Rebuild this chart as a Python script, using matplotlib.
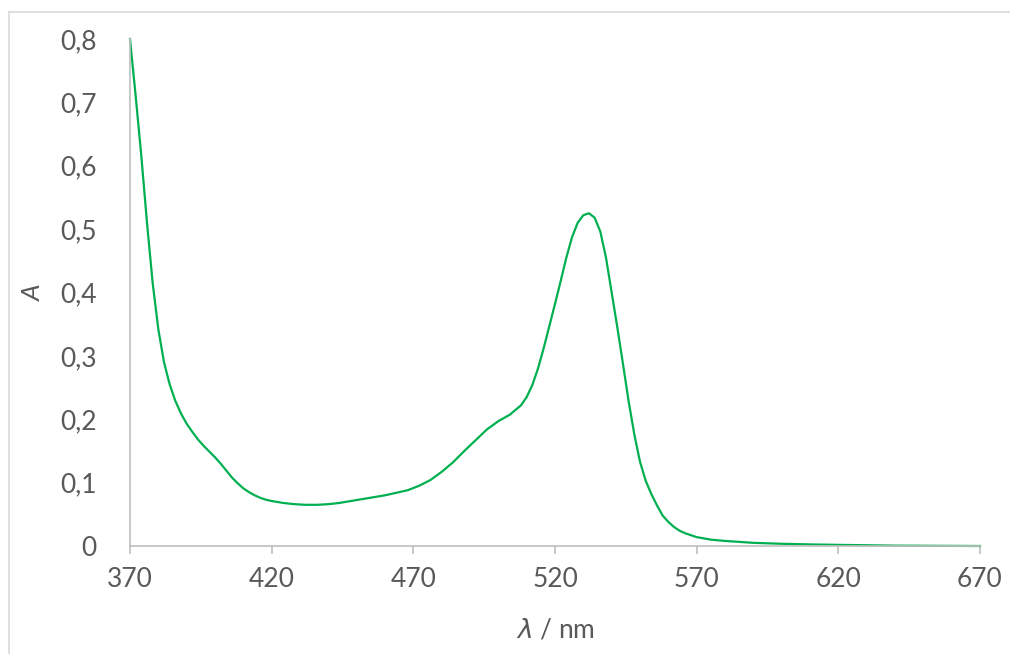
import numpy as np
import matplotlib
matplotlib.use('Agg')
import matplotlib.pyplot as plt
from matplotlib.lines import Line2D
from matplotlib.ticker import FuncFormatter

# absorption spectrum
wavelength = [370, 372, 374, 376, 378, 380, 382, 384, 386, 388, 390, 392, 394, 396, 398,
              400, 402, 404, 406, 408, 410, 412, 414, 416, 418, 420, 424, 428, 432, 436,
              440, 444, 448, 452, 456, 460, 464, 468, 472, 476, 480, 484, 488, 492, 496,
              500, 504, 508, 510, 512, 514, 516, 518, 520, 522, 524, 526, 528, 530, 532,
              534, 536, 538, 540, 542, 544, 546, 548, 550, 552, 554, 556, 558, 560, 562,
              564, 566, 570, 575, 580, 590, 600, 610, 620, 630, 640, 650, 660, 670]
absorbance = [0.800, 0.710, 0.615, 0.510, 0.415, 0.342, 0.290, 0.255, 0.229, 0.209, 0.193, 0.180, 0.168, 0.158, 0.149,
              0.140, 0.130, 0.119, 0.108, 0.099, 0.091, 0.085, 0.080, 0.076, 0.073, 0.071, 0.068, 0.066, 0.065, 0.065,
              0.066, 0.068, 0.071, 0.074, 0.077, 0.080, 0.084, 0.088, 0.095, 0.104, 0.117, 0.132, 0.150, 0.167, 0.184,
              0.197, 0.207, 0.222, 0.235, 0.254, 0.280, 0.312, 0.347, 0.382, 0.418, 0.455, 0.487, 0.510, 0.522, 0.525,
              0.518, 0.496, 0.455, 0.400, 0.345, 0.287, 0.228, 0.176, 0.133, 0.103, 0.082, 0.064, 0.048, 0.038, 0.030,
              0.024, 0.020, 0.014, 0.010, 0.008, 0.005, 0.0035, 0.0025, 0.0018, 0.0012, 0.0006, 0.0004, 0.0002, 0.0]

x_ticks = [370, 420, 470, 520, 570, 620, 670]
y_ticks = [0, 0.1, 0.2, 0.3, 0.4, 0.5, 0.6, 0.7, 0.8]

grey = '#595959'
axis_grey = '#BFBFBF'

plt.rcParams['font.family'] = ['Lato', 'DejaVu Sans']

fig = plt.figure(figsize=(10.10, 6.54), dpi=100)
W, H = 1010.0, 654.0
ax = fig.add_axes([130 / W, 1 - 546 / H, 850 / W, 507 / H])

ax.plot(wavelength, absorbance, color='#00B050', linewidth=1.6, clip_on=False)

ax.set_xlim(370, 670)
ax.set_ylim(0, 0.8)
ax.set_xticks(x_ticks)
ax.set_yticks(y_ticks)
ax.yaxis.set_major_formatter(FuncFormatter(
    lambda v, p: '0' if abs(v) < 1e-9 else '{:.1f}'.format(v).replace('.', ',')))

for side in ['top', 'right']:
    ax.spines[side].set_visible(False)
for side in ['left', 'bottom']:
    ax.spines[side].set_color(axis_grey)
    ax.spines[side].set_linewidth(1.2)

ax.tick_params(axis='x', direction='out', length=6, width=1.2, color=axis_grey,
               labelsize=19, labelcolor=grey, pad=9)
ax.tick_params(axis='y', length=0, labelsize=19, labelcolor=grey, pad=24)

ax.set_xlabel(r'$\it{\lambda}$ / nm', fontsize=19, color=grey)
ax.set_ylabel('A', fontsize=19, color=grey, style='italic')
# place the axis titles where the reference has them
ax.xaxis.set_label_coords(0.5, -(630 - 546) / 507.0)
ax.yaxis.set_label_coords((33 - 130) / 850.0, 0.5)
ax.xaxis.label.set_va('center')
ax.yaxis.label.set_va('center')

# light frame of the chart area (left and top edges)
fig.add_artist(Line2D([9 / W, 9 / W], [0, 1 - 12 / H], color='#D9D9D9', linewidth=1.2,
                      transform=fig.transFigure))
fig.add_artist(Line2D([9 / W, 1], [1 - 12 / H, 1 - 12 / H], color='#D9D9D9', linewidth=1.2,
                      transform=fig.transFigure))

fig.savefig('out.png', dpi=100)
